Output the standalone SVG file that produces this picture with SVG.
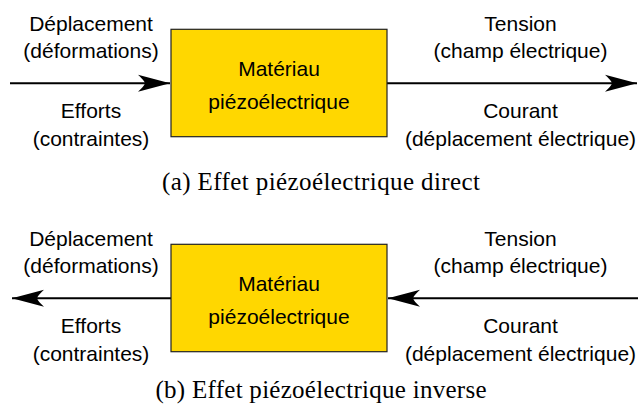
<svg xmlns="http://www.w3.org/2000/svg" width="638" height="408" viewBox="0 0 638 408">
<defs>
<style>
.lbl{font-family:"Liberation Sans",Arial,sans-serif;font-size:21px;fill:#000;text-anchor:middle}
.cap{font-family:"Liberation Serif","Times New Roman",serif;font-size:25px;fill:#000;text-anchor:middle}
.box{fill:#ffd700;stroke:#222;stroke-width:1.2}
.wire{stroke:#000;stroke-width:2;fill:none}
</style>
<marker id="ah" viewBox="-33 -9 34 18" refX="0" refY="0" markerUnits="userSpaceOnUse" markerWidth="34" markerHeight="18" orient="auto">
<path d="M0,0 L-32,-8.5 Q-26,-3 -25,0 Q-26,3 -32,8.5 Z" fill="#000"/>
</marker>
</defs>
<rect width="638" height="408" fill="#fff"/>
<g id="connectors">
<line class="wire" x1="10" y1="83.3" x2="170" y2="83.3" marker-end="url(#ah)"/>
<line class="wire" x1="387" y1="83.3" x2="637" y2="83.3" marker-end="url(#ah)"/>
<line class="wire" x1="171" y1="298.3" x2="12" y2="298.3" marker-end="url(#ah)"/>
<line class="wire" x1="638" y1="298.3" x2="388" y2="298.3" marker-end="url(#ah)"/>
</g>
<g id="box-a">
<rect class="box" x="171" y="29.3" width="216" height="107.4"/>
<text class="lbl" x="279" y="75.5">Matériau</text>
<text class="lbl" x="279" y="108.5">piézoélectrique</text>
</g>
<g id="labels-a-left">
<text class="lbl" x="91" y="30.7">Déplacement</text>
<text class="lbl" x="91" y="57.5">(déformations)</text>
<text class="lbl" x="91" y="118.3">Efforts</text>
<text class="lbl" x="91" y="145.5">(contraintes)</text>
</g>
<g id="labels-a-right">
<text class="lbl" x="520.5" y="30.7">Tension</text>
<text class="lbl" x="520.5" y="57.5">(champ électrique)</text>
<text class="lbl" x="520.5" y="118.3">Courant</text>
<text class="lbl" x="520.5" y="145.5">(déplacement électrique)</text>
</g>
<text id="caption-a" class="cap" x="321" y="189.5" textLength="318">(a) Effet piézoélectrique direct</text>
<g id="box-b">
<rect class="box" x="171" y="244.3" width="216" height="107.4"/>
<text class="lbl" x="279" y="290.5">Matériau</text>
<text class="lbl" x="279" y="323.5">piézoélectrique</text>
</g>
<g id="labels-b-left">
<text class="lbl" x="91" y="245.7">Déplacement</text>
<text class="lbl" x="91" y="272.5">(déformations)</text>
<text class="lbl" x="91" y="333.3">Efforts</text>
<text class="lbl" x="91" y="360.5">(contraintes)</text>
</g>
<g id="labels-b-right">
<text class="lbl" x="520.5" y="245.7">Tension</text>
<text class="lbl" x="520.5" y="272.5">(champ électrique)</text>
<text class="lbl" x="520.5" y="333.3">Courant</text>
<text class="lbl" x="520.5" y="360.5">(déplacement électrique)</text>
</g>
<text id="caption-b" class="cap" x="321" y="398" textLength="331">(b) Effet piézoélectrique inverse</text>
</svg>
